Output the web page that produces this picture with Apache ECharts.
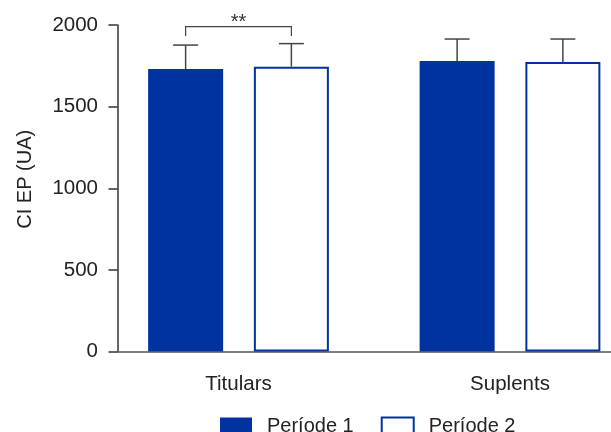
<!DOCTYPE html>
<html><head><meta charset="utf-8">
<script src="https://cdn.jsdelivr.net/npm/echarts@6/dist/echarts.min.js"></script>
<style>html,body{margin:0;padding:0;background:#fff}#c{width:611px;height:432px}</style>
</head><body><div id="c"></div>
<script>
const categories = ['Titulars', 'Suplents'];
const seriesNames = ['Període 1', 'Període 2'];
const periode1 = [1730, 1779];
const periode2 = [1745, 1773];
const err1 = [147, 135];
const err2 = [141, 141];
const yTicks = [0, 500, 1000, 1500, 2000];
const signif = {cat: 0, low: 1932, high: 1990, label: '**'};

const BLUE = '#0033a0';
const FONT = 'Liberation Sans, Arial, Helvetica, sans-serif';
const BAR_W = 75, GAP = 0.41;
const OFF = (BAR_W + BAR_W * GAP) / 2;

const errData = [];
categories.forEach((c, i) => {
  errData.push([i, periode1[i], periode1[i] + err1[i], -1]);
  errData.push([i, periode2[i], periode2[i] + err2[i], 1]);
});

const chart = echarts.init(document.getElementById('c'), null, {renderer: 'canvas'});
chart.setOption({
  animation: false,
  textStyle: {fontFamily: FONT},
  grid: [
    {left: 102.75, width: 543, top: 25, bottom: 80.5, outerBoundsMode: 'none', containLabel: false},
    {left: 117.5, right: 0, top: 25, bottom: 80.5, outerBoundsMode: 'none', containLabel: false}
  ],
  xAxis: [
    {type: 'category', gridIndex: 0, data: categories,
     axisLine: {show: false}, axisTick: {show: false},
     axisLabel: {color: '#222', fontSize: 20.5, margin: 22, fontFamily: FONT}},
    {type: 'value', gridIndex: 1, min: 0, max: 1,
     axisLine: {show: true, lineStyle: {color: '#555', width: 1.5}},
     axisTick: {show: false}, axisLabel: {show: false}, splitLine: {show: false}}
  ],
  yAxis: [
    {type: 'value', gridIndex: 0, min: 0, max: 2000, interval: 500, show: false, splitLine: {show: false}},
    {type: 'value', gridIndex: 1, min: 0, max: 2000, interval: 500,
     name: 'CI EP (UA)', nameLocation: 'middle', nameGap: 82,
     nameTextStyle: {color: '#222', fontSize: 20, fontFamily: FONT, padding: [0, 0, 0, 18]},
     axisLine: {show: true, lineStyle: {color: '#333', width: 1.5}},
     axisTick: {show: true, length: 9, lineStyle: {color: '#333', width: 1.5}},
     axisLabel: {color: '#222', fontSize: 20.5, margin: 19.5, fontFamily: FONT,
                 formatter: v => yTicks.includes(v) ? String(v) : ''},
     splitLine: {show: false}}
  ],
  legend: {
    left: 220, top: 416, padding: 0, itemWidth: 32, itemHeight: 17, itemGap: 27,
    icon: 'rect',
    textStyle: {color: '#222', fontSize: 20, fontFamily: FONT, padding: [0, 0, 0, 10]},
    data: seriesNames
  },
  series: [
    {name: seriesNames[0], type: 'bar', xAxisIndex: 0, yAxisIndex: 0, data: periode1,
     barWidth: BAR_W, barGap: (GAP * 100) + '%',
     itemStyle: {color: BLUE}},
    {name: seriesNames[1], type: 'bar', xAxisIndex: 0, yAxisIndex: 0, data: periode2,
     barWidth: BAR_W,
     itemStyle: {color: '#fff', borderColor: BLUE, borderWidth: 2}},
    {type: 'custom', xAxisIndex: 0, yAxisIndex: 0, data: errData, z: 5,
     encode: {x: 0, y: [1, 2]},
     renderItem: function (params, api) {
       const cat = api.value(0), lo = api.value(1), hi = api.value(2), side = api.value(3);
       const p0 = api.coord([cat, lo]);
       const p1 = api.coord([cat, hi]);
       const x = p0[0] + side * OFF;
       const st = {stroke: '#444', lineWidth: 1.5};
       return {type: 'group', children: [
         {type: 'line', shape: {x1: x, y1: p0[1], x2: x, y2: p1[1]}, style: st},
         {type: 'line', shape: {x1: x - 12.5, y1: p1[1], x2: x + 12.5, y2: p1[1]}, style: st}
       ]};
     }},
    {type: 'custom', xAxisIndex: 0, yAxisIndex: 0, z: 5,
     data: [[signif.cat, signif.low, signif.high]],
     encode: {x: 0, y: [1, 2]},
     renderItem: function (params, api) {
       const cat = api.value(0);
       const pl = api.coord([cat, api.value(1)]);
       const ph = api.coord([cat, api.value(2)]);
       const xl = pl[0] - OFF, xr = pl[0] + OFF;
       return {type: 'group', children: [
         {type: 'polyline', shape: {points: [[xl, pl[1]], [xl, ph[1]], [xr, ph[1]], [xr, pl[1]]]},
          style: {stroke: '#444', lineWidth: 1.2, fill: null}},
         {type: 'text', style: {text: signif.label, x: pl[0], y: ph[1] - 4.5, align: 'center',
          verticalAlign: 'middle', fill: '#333', font: '20px ' + FONT}}
       ]};
     }}
  ]
});
</script></body></html>
